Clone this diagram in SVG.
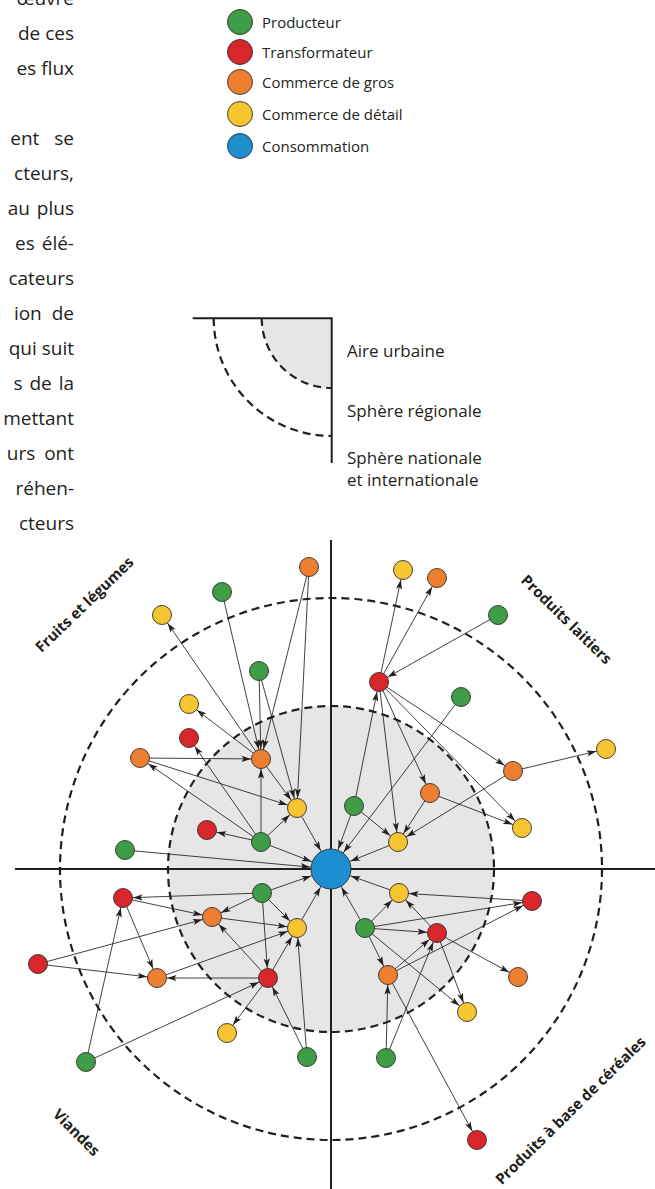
<svg xmlns="http://www.w3.org/2000/svg" width="655" height="1189" viewBox="0 0 655 1189">
<style>
.t{font-family:"Open Sans","Liberation Sans",sans-serif;fill:#231f20}
.para{font-size:19px;text-anchor:end}
.lg{font-size:15px}
.lg2{font-size:17px}
.cat{font-size:15px;font-weight:bold;text-anchor:middle;dominant-baseline:central}
.n{stroke:#2e2e2e;stroke-width:0.9}
.g{fill:#3f9c47}.r{fill:#d8262b}.o{fill:#ee7f30}.y{fill:#f7c532}.b{fill:#1d8fd1}
.dash{fill:none;stroke:#231f20;stroke-width:2.2;stroke-dasharray:8 5}
.ax{stroke:#231f20;stroke-width:2;fill:none}
#connectors line{stroke:#231f20;stroke-width:0.85}
.e{marker-end:url(#ar)}
.eb{marker-end:url(#ab)}
</style>
<defs>
<marker id="ar" viewBox="0 0 21 8" refX="21" refY="4" markerWidth="21" markerHeight="8" markerUnits="userSpaceOnUse" orient="auto"><path d="M1.5,0.9 L11,4 L1.5,7.1 L3.6,4 Z" fill="#231f20"/></marker>
<marker id="ab" viewBox="0 0 32 8" refX="32" refY="4" markerWidth="32" markerHeight="8" markerUnits="userSpaceOnUse" orient="auto"><path d="M1.5,0.9 L11,4 L1.5,7.1 L3.6,4 Z" fill="#231f20"/></marker>
</defs>
<rect width="655" height="1189" fill="#ffffff"/>

<g id="paragraph" class="t para">
<text x="74" y="5">œuvre</text>
<text x="74" y="40">de ces</text>
<text x="74" y="75">es flux</text>
<text x="74" y="145" word-spacing="10">ent se</text>
<text x="74" y="180">cteurs,</text>
<text x="74" y="215" word-spacing="2">au plus</text>
<text x="74" y="250" word-spacing="2">es élé-</text>
<text x="74" y="285">cateurs</text>
<text x="74" y="320" word-spacing="5">ion de</text>
<text x="74" y="355">qui suit</text>
<text x="74" y="390" word-spacing="2">s de la</text>
<text x="74" y="425">mettant</text>
<text x="74" y="460" word-spacing="4">urs ont</text>
<text x="74" y="495">réhen-</text>
<text x="74" y="530">cteurs</text>
</g>

<g id="legend-actors">
<g id="leg-producteur"><circle class="n g" cx="240" cy="22" r="12.5"/><text class="t lg" x="262" y="28">Producteur</text></g>
<g id="leg-transformateur"><circle class="n r" cx="240" cy="52" r="12.5"/><text class="t lg" x="262" y="58">Transformateur</text></g>
<g id="leg-gros"><circle class="n o" cx="240" cy="82" r="12.5"/><text class="t lg" x="262" y="88">Commerce de gros</text></g>
<g id="leg-detail"><circle class="n y" cx="240" cy="114" r="12.5"/><text class="t lg" x="262" y="120">Commerce de détail</text></g>
<g id="leg-conso"><circle class="n b" cx="240" cy="146" r="12.5"/><text class="t lg" x="262" y="152">Consommation</text></g>
</g>

<g id="legend-spheres">
<path d="M331.7,318 L261.7,318 A70,70 0 0 0 331.7,388 Z" fill="#e6e6e7"/>
<path class="dash" d="M261.7,318 A70,70 0 0 0 331.7,388"/>
<path class="dash" d="M213.7,318 A118,118 0 0 0 331.7,436"/>
<path class="ax" d="M192.7,318.3 H331.7 V463"/>
<text class="t lg2" x="347" y="357">Aire urbaine</text>
<text class="t lg2" x="347" y="417">Sphère régionale</text>
<text class="t lg2" x="347" y="464">Sphère nationale</text>
<text class="t lg2" x="347" y="486">et internationale</text>
</g>

<g id="zones">
<circle cx="331" cy="869" r="163" fill="#e6e6e7"/>
<circle class="dash" cx="331" cy="869" r="163"/>
<circle class="dash" cx="331" cy="869" r="271"/>
<line class="ax" x1="15" y1="869" x2="655" y2="869"/>
<line class="ax" x1="331" y1="540" x2="331" y2="1189"/>
</g>

<g id="connectors">
<line class="e" x1="222" y1="592" x2="261" y2="759"/>
<line class="e" x1="309" y1="567" x2="261" y2="759"/>
<line class="e" x1="309" y1="567" x2="297" y2="808"/>
<line class="e" x1="259" y1="671" x2="261" y2="759"/>
<line class="e" x1="259" y1="671" x2="297" y2="808"/>
<line class="e" x1="261" y1="759" x2="162" y2="615"/>
<line class="e" x1="261" y1="759" x2="189" y2="704"/>
<line class="e" x1="140" y1="758" x2="261" y2="759"/>
<line class="e" x1="261" y1="759" x2="297" y2="808"/>
<line class="e" x1="140" y1="758" x2="297" y2="808"/>
<line class="e" x1="261" y1="842" x2="140" y2="758"/>
<line class="e" x1="261" y1="842" x2="189" y2="738"/>
<line class="e" x1="261" y1="842" x2="261" y2="759"/>
<line class="e" x1="261" y1="842" x2="297" y2="808"/>
<line class="e" x1="261" y1="842" x2="207" y2="830"/>
<line class="eb" x1="261" y1="842" x2="331" y2="869"/>
<line class="eb" x1="297" y1="808" x2="331" y2="869"/>
<line class="eb" x1="125" y1="850" x2="331" y2="869"/>

<line class="e" x1="379" y1="682" x2="403" y2="570"/>
<line class="e" x1="379" y1="682" x2="437" y2="578"/>
<line class="e" x1="498" y1="615" x2="379" y2="682"/>
<line class="e" x1="379" y1="682" x2="513" y2="771"/>
<line class="e" x1="379" y1="682" x2="430" y2="793"/>
<line class="e" x1="379" y1="682" x2="398" y2="842"/>
<line class="e" x1="379" y1="682" x2="522" y2="828"/>
<line class="e" x1="354" y1="806" x2="379" y2="682"/>
<line class="eb" x1="461" y1="697" x2="331" y2="869"/>
<line class="e" x1="513" y1="771" x2="606" y2="749"/>
<line class="e" x1="513" y1="771" x2="398" y2="842"/>
<line class="e" x1="430" y1="793" x2="398" y2="842"/>
<line class="e" x1="430" y1="793" x2="522" y2="828"/>
<line class="e" x1="354" y1="806" x2="398" y2="842"/>
<line class="eb" x1="354" y1="806" x2="331" y2="869"/>
<line class="eb" x1="398" y1="842" x2="331" y2="869"/>

<line class="e" x1="262" y1="893" x2="123" y2="898"/>
<line class="e" x1="262" y1="893" x2="212" y2="917"/>
<line class="e" x1="262" y1="893" x2="297" y2="928"/>
<line class="e" x1="262" y1="893" x2="268" y2="978"/>
<line class="eb" x1="262" y1="893" x2="331" y2="869"/>
<line class="e" x1="123" y1="898" x2="212" y2="917"/>
<line class="e" x1="123" y1="898" x2="157" y2="978"/>
<line class="e" x1="212" y1="917" x2="297" y2="928"/>
<line class="e" x1="38" y1="964" x2="212" y2="917"/>
<line class="e" x1="38" y1="964" x2="157" y2="978"/>
<line class="e" x1="157" y1="978" x2="297" y2="928"/>
<line class="e" x1="268" y1="978" x2="157" y2="978"/>
<line class="e" x1="268" y1="978" x2="212" y2="917"/>
<line class="e" x1="268" y1="978" x2="297" y2="928"/>
<line class="e" x1="268" y1="978" x2="227" y2="1033"/>
<line class="e" x1="86" y1="1062" x2="123" y2="898"/>
<line class="e" x1="86" y1="1062" x2="268" y2="978"/>
<line class="e" x1="307" y1="1057" x2="268" y2="978"/>
<line class="e" x1="307" y1="1057" x2="297" y2="928"/>
<line class="eb" x1="297" y1="928" x2="331" y2="869"/>

<line class="eb" x1="399" y1="893" x2="331" y2="869"/>
<line class="e" x1="532" y1="901" x2="399" y2="893"/>
<line class="eb" x1="365" y1="928" x2="331" y2="869"/>
<line class="e" x1="365" y1="928" x2="399" y2="893"/>
<line class="e" x1="365" y1="928" x2="532" y2="901"/>
<line class="e" x1="365" y1="928" x2="437" y2="933"/>
<line class="e" x1="365" y1="928" x2="388" y2="975"/>
<line class="e" x1="365" y1="928" x2="467" y2="1012"/>
<line class="e" x1="437" y1="933" x2="399" y2="893"/>
<line class="e" x1="437" y1="933" x2="518" y2="977"/>
<line class="e" x1="437" y1="933" x2="467" y2="1012"/>
<line class="e" x1="388" y1="975" x2="437" y2="933"/>
<line class="e" x1="388" y1="975" x2="532" y2="901"/>
<line class="e" x1="386" y1="1058" x2="388" y2="975"/>
<line class="e" x1="386" y1="1058" x2="437" y2="933"/>
<line class="e" x1="388" y1="975" x2="477" y2="1140"/>
</g>

<g id="nodes">
<g id="a1"><circle class="n o" cx="309" cy="567" r="9.5"/></g>
<g id="a2"><circle class="n g" cx="222" cy="592" r="9.5"/></g>
<g id="a3"><circle class="n y" cx="162" cy="615" r="9.5"/></g>
<g id="a4"><circle class="n g" cx="259" cy="671" r="9.5"/></g>
<g id="a5"><circle class="n y" cx="189" cy="704" r="9.5"/></g>
<g id="a6"><circle class="n r" cx="189" cy="738" r="9.5"/></g>
<g id="a7"><circle class="n o" cx="140" cy="758" r="9.5"/></g>
<g id="a8"><circle class="n o" cx="261" cy="759" r="9.5"/></g>
<g id="a9"><circle class="n y" cx="297" cy="808" r="9.5"/></g>
<g id="a10"><circle class="n r" cx="207" cy="830" r="9.5"/></g>
<g id="a11"><circle class="n g" cx="261" cy="842" r="9.5"/></g>
<g id="a12"><circle class="n g" cx="125" cy="850" r="9.5"/></g>
<g id="b1"><circle class="n y" cx="403" cy="570" r="9.5"/></g>
<g id="b2"><circle class="n o" cx="437" cy="578" r="9.5"/></g>
<g id="b3"><circle class="n g" cx="498" cy="615" r="9.5"/></g>
<g id="b4"><circle class="n r" cx="379" cy="682" r="9.5"/></g>
<g id="b5"><circle class="n g" cx="461" cy="697" r="9.5"/></g>
<g id="b6"><circle class="n y" cx="606" cy="749" r="9.5"/></g>
<g id="b7"><circle class="n o" cx="513" cy="771" r="9.5"/></g>
<g id="b8"><circle class="n o" cx="430" cy="793" r="9.5"/></g>
<g id="b9"><circle class="n g" cx="354" cy="806" r="9.5"/></g>
<g id="b10"><circle class="n y" cx="522" cy="828" r="9.5"/></g>
<g id="b11"><circle class="n y" cx="398" cy="842" r="9.5"/></g>
<g id="c1"><circle class="n g" cx="262" cy="893" r="9.5"/></g>
<g id="c2"><circle class="n r" cx="123" cy="898" r="9.5"/></g>
<g id="c3"><circle class="n o" cx="212" cy="917" r="9.5"/></g>
<g id="c4"><circle class="n y" cx="297" cy="928" r="9.5"/></g>
<g id="c5"><circle class="n r" cx="38" cy="964" r="9.5"/></g>
<g id="c6"><circle class="n o" cx="157" cy="978" r="9.5"/></g>
<g id="c7"><circle class="n r" cx="268" cy="978" r="9.5"/></g>
<g id="c8"><circle class="n y" cx="227" cy="1033" r="9.5"/></g>
<g id="c9"><circle class="n g" cx="86" cy="1062" r="9.5"/></g>
<g id="c10"><circle class="n g" cx="307" cy="1057" r="9.5"/></g>
<g id="d1"><circle class="n y" cx="399" cy="893" r="9.5"/></g>
<g id="d2"><circle class="n r" cx="532" cy="901" r="9.5"/></g>
<g id="d3"><circle class="n g" cx="365" cy="928" r="9.5"/></g>
<g id="d4"><circle class="n r" cx="437" cy="933" r="9.5"/></g>
<g id="d5"><circle class="n o" cx="388" cy="975" r="9.5"/></g>
<g id="d6"><circle class="n o" cx="518" cy="977" r="9.5"/></g>
<g id="d7"><circle class="n y" cx="467" cy="1012" r="9.5"/></g>
<g id="d8"><circle class="n g" cx="386" cy="1058" r="9.5"/></g>
<g id="d9"><circle class="n r" cx="477" cy="1140" r="9.5"/></g>
<g id="consommation"><circle class="n b" cx="331" cy="869" r="20"/></g>
</g>

<g id="sector-labels" class="t">
<text class="cat" transform="translate(84,604) rotate(-44)">Fruits et légumes</text>
<text class="cat" transform="translate(567,619) rotate(44.5)">Produits laitiers</text>
<text class="cat" transform="translate(77,1132) rotate(45)">Viandes</text>
<text class="cat" transform="translate(570,1110) rotate(-44.5)">Produits à base de céréales</text>
</g>
</svg>
